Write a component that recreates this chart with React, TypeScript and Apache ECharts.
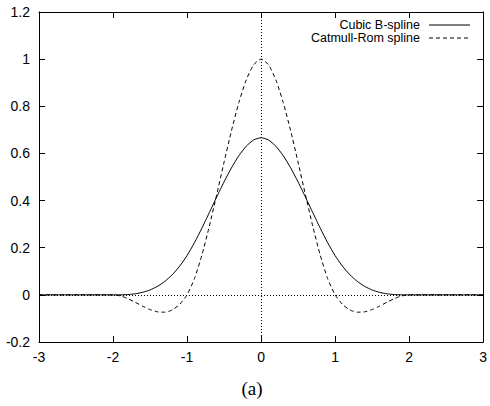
import React, { useEffect, useRef } from "react";
import * as echarts from "echarts";

const xValues = [
  -3, -2.0, -1.9, -1.8, -1.7, -1.6, -1.5, -1.4, -1.3, -1.2, -1.1, -1.0, -0.9, -0.8, -0.7, -0.6,
  -0.5, -0.4, -0.3, -0.2, -0.1, 0, 0.1, 0.2, 0.3, 0.4, 0.5, 0.6, 0.7, 0.8, 0.9, 1.0, 1.1, 1.2,
  1.3, 1.4, 1.5, 1.6, 1.7, 1.8, 1.9, 2.0, 3,
];

const cubicBSpline = [
  0, 0, 0.0002, 0.0013, 0.0045, 0.0107, 0.0208, 0.036, 0.0572, 0.0853, 0.1215, 0.1667, 0.2212,
  0.2827, 0.3482, 0.4147, 0.4792, 0.5387, 0.5902, 0.6307, 0.6572, 0.6667, 0.6572, 0.6307, 0.5902,
  0.5387, 0.4792, 0.4147, 0.3482, 0.2827, 0.2212, 0.1667, 0.1215, 0.0853, 0.0572, 0.036, 0.0208,
  0.0107, 0.0045, 0.0013, 0.0002, 0, 0,
];

const catmullRom = [
  0, 0, -0.0045, -0.016, -0.0315, -0.048, -0.0625, -0.072, -0.0735, -0.064, -0.0405, 0, 0.0685,
  0.168, 0.2895, 0.424, 0.5625, 0.696, 0.8155, 0.912, 0.9765, 1, 0.9765, 0.912, 0.8155, 0.696,
  0.5625, 0.424, 0.2895, 0.168, 0.0685, 0, -0.0405, -0.064, -0.0735, -0.072, -0.0625, -0.048,
  -0.0315, -0.016, -0.0045, 0, 0,
];

const seriesNames = ["Cubic B-spline", "Catmull-Rom spline"];
const caption = "(a)";

export default function App() {
  const ref = useRef<HTMLDivElement>(null);
  useEffect(() => {
    document.body.style.margin = "0";
    const chart = echarts.init(ref.current!, null, { renderer: "svg" });
    const font = "Liberation Sans";
    const tick = { show: true, inside: true, length: 6, lineStyle: { color: "#000", width: 1 } };
    chart.setOption({
      animation: false,
      backgroundColor: "#fff",
      grid: { left: 39, right: 5, top: 12, bottom: 64, containLabel: false },
      xAxis: [
        {
          type: "value",
          min: -3,
          max: 3,
          interval: 1,
          axisLine: { show: true, onZero: false, lineStyle: { color: "#000", width: 1 } },
          axisTick: tick,
          axisLabel: { color: "#000", fontFamily: font, fontSize: 14, margin: 8 },
          splitLine: { show: false },
        },
        {
          type: "value",
          position: "top",
          min: -3,
          max: 3,
          interval: 1,
          axisLine: { show: true, onZero: false, lineStyle: { color: "#000", width: 1 } },
          axisTick: tick,
          axisLabel: { show: false },
          splitLine: { show: false },
        },
      ],
      yAxis: [
        {
          type: "value",
          min: -0.2,
          max: 1.2,
          interval: 0.2,
          axisLine: { show: true, onZero: false, lineStyle: { color: "#000", width: 1 } },
          axisTick: tick,
          axisLabel: {
            color: "#000",
            fontFamily: font,
            fontSize: 14,
            margin: 9,
            formatter: (v: number) => String(Math.round(v * 10) / 10),
          },
          splitLine: { show: false },
        },
        {
          type: "value",
          position: "right",
          min: -0.2,
          max: 1.2,
          interval: 0.2,
          axisLine: { show: true, onZero: false, lineStyle: { color: "#000", width: 1 } },
          axisTick: tick,
          axisLabel: { show: false },
          splitLine: { show: false },
        },
      ],
      series: [
        {
          name: seriesNames[0],
          type: "line",
          data: xValues.map((x, i) => [x, cubicBSpline[i]]),
          showSymbol: false,
          smooth: 0.2,
          lineStyle: { color: "#000", width: 1 },
          z: 3,
          markLine: {
            silent: true,
            symbol: "none",
            label: { show: false },
            lineStyle: { color: "#000", width: 1, type: [1, 2] },
            data: [{ yAxis: 0 }, { xAxis: 0 }],
          },
        },
        {
          name: seriesNames[1],
          type: "line",
          data: xValues.map((x, i) => [x, catmullRom[i]]),
          showSymbol: false,
          smooth: 0.2,
          lineStyle: { color: "#000", width: 1, type: [4, 3] },
          z: 3,
        },
      ],
      graphic: [
        {
          type: "text",
          right: 70,
          top: 18,
          style: { text: seriesNames[0], fill: "#000", font: `12.5px ${font}`, textAlign: "right" },
        },
        {
          type: "line",
          shape: { x1: 429, y1: 25, x2: 470, y2: 25 },
          style: { stroke: "#000", lineWidth: 1 },
        },
        {
          type: "text",
          right: 70,
          top: 31,
          style: { text: seriesNames[1], fill: "#000", font: `12.5px ${font}`, textAlign: "right" },
        },
        {
          type: "line",
          shape: { x1: 429, y1: 38, x2: 470, y2: 38 },
          style: { stroke: "#000", lineWidth: 1, lineDash: [4, 3] },
        },
        {
          type: "text",
          x: 252,
          y: 388,
          style: {
            text: caption,
            fill: "#000",
            font: `19px "Liberation Serif"`,
            textAlign: "center",
            textVerticalAlign: "middle",
          },
        },
      ],
    });
    return () => chart.dispose();
  }, []);
  return <div ref={ref} style={{ width: 490, height: 406 }} />;
}
